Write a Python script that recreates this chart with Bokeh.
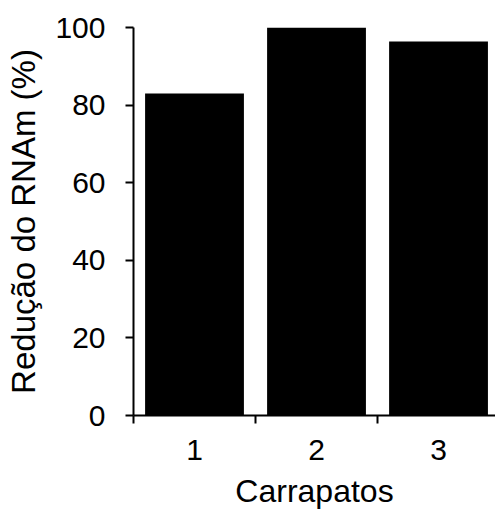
from bokeh.plotting import figure
from bokeh.models import FixedTicker, Range1d
from bokeh.embed import file_html
from bokeh.resources import INLINE

categories = ["1", "2", "3"]
values = [83, 100, 96.4]
y_ticks = [0, 20, 40, 60, 80, 100]

xs = [i + 1 for i in range(len(categories))]

p = figure(width=495, height=514, output_backend="svg", toolbar_location=None,
           x_range=Range1d(0.5, 3.467), y_range=Range1d(0, 100),
           min_border_left=133, min_border_right=0, min_border_top=27, min_border_bottom=99)
p.vbar(x=xs, top=values, width=0.81, bottom=0, fill_color="black", line_color=None)

p.outline_line_color = None
p.xgrid.visible = False
p.ygrid.visible = False

font = "Liberation Sans"
# x axis
xa = p.xaxis[0]
xa.ticker = FixedTicker(ticks=xs, minor_ticks=[0.5, 1.5, 2.5])
xa.major_label_overrides = {x: c for x, c in zip(xs, categories)}
xa.major_tick_out = 0
xa.major_tick_in = 0
xa.minor_tick_out = 8
xa.minor_tick_in = 0
xa.minor_tick_line_width = 2
xa.minor_tick_line_color = "black"
xa.axis_line_width = 2
xa.axis_line_color = "black"
xa.major_label_text_font = font
xa.major_label_text_font_size = "30px"
xa.major_label_text_color = "black"
xa.major_label_standoff = 16
xa.axis_label = "Carrapatos"
xa.axis_label_text_font = font
xa.axis_label_text_font_size = "32px"
xa.axis_label_text_font_style = "normal"
xa.axis_label_text_color = "black"
xa.axis_label_standoff = 10

# y axis
ya = p.yaxis[0]
ya.ticker = FixedTicker(ticks=y_ticks, minor_ticks=[])
ya.major_tick_out = 8
ya.major_tick_in = 0
ya.major_tick_line_width = 2
ya.major_tick_line_color = "black"
ya.axis_line_width = 2
ya.axis_line_color = "black"
ya.major_label_text_font = font
ya.major_label_text_font_size = "30px"
ya.major_label_text_color = "black"
ya.major_label_standoff = 20
ya.axis_label = "Redução do RNAm (%)"
ya.axis_label_text_font = font
ya.axis_label_text_font_size = "33px"
ya.axis_label_text_font_style = "normal"
ya.axis_label_text_color = "black"
ya.axis_label_standoff = 10

open("out.html", "w").write(file_html(p, INLINE))
